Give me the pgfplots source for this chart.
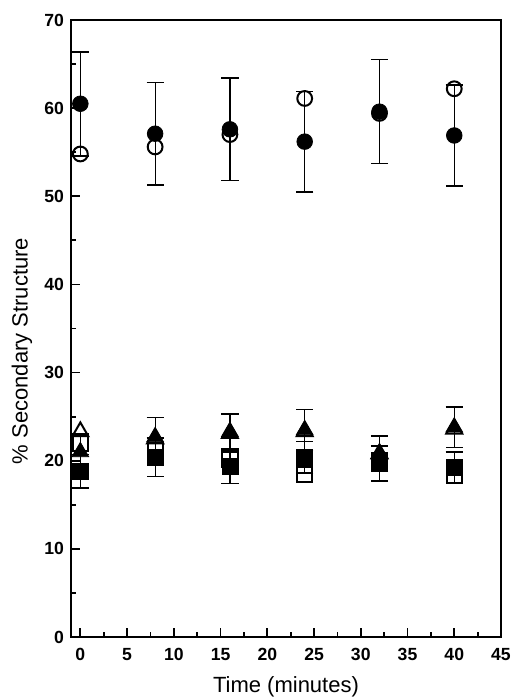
\documentclass[border=0pt]{standalone}
\usepackage{fontspec}
\setmainfont{Liberation Sans}
\usepackage{pgfplots}
\usepackage{pgfplotstable}
\pgfplotsset{compat=1.18}
\pgfplotstableread{
t y e
0 60.5 5.9
8 57.1 5.8
16 57.6 5.8
24 56.2 5.7
32 59.6 5.9
40 56.9 5.7
}\fcirc
\pgfplotstableread{
t y
0 54.8
8 55.6
16 57.0
24 61.1
32 59.4
40 62.2
}\ocirc
\pgfplotstableread{
t y e
0 21.0 2.0
8 22.7 2.2
16 23.3 2.0
24 23.5 2.3
32 20.8 2.0
40 23.8 2.3
}\ftri
\pgfplotstableread{
t y
0 23.3
8 22.5
16 23.1
24 23.3
32 20.8
40 23.6
}\otri
\pgfplotstableread{
t y e
0 18.8 1.9
8 20.4 2.2
16 19.3 1.9
24 20.4 1.8
32 19.7 2.0
40 19.2 1.8
}\fsq
\pgfplotstableread{
t y
0 22.0
8 21.2
16 20.1
24 18.4
32 20.0
40 18.3
}\osq
\begin{document}
\begin{tikzpicture}
\useasboundingbox (-35.5pt,-31.5pt) rectangle (219.5pt,318.5pt);
\begin{axis}[
  at={(0,0)}, anchor=south west,
  scale only axis, width=215pt, height=308.5pt,
  xmin=-1, xmax=45, ymin=0, ymax=70,
  xtick={0,5,...,45}, ytick={0,10,...,70},
  minor x tick num=1, minor y tick num=1,
  xtick pos=bottom, ytick pos=left, tick align=inside,
  major tick length=4.5pt, minor tick length=2.5pt,
  axis line style={line width=1pt},
  every tick/.style={line width=0.9pt, black},
  tick label style={font=\fontsize{8.8}{10}\selectfont\bfseries},
  /pgf/number format/assume math mode=true,
  xticklabel style={yshift=-2pt},
  xlabel={Time (minutes)}, ylabel={\% Secondary Structure},
  label style={font=\fontsize{11}{13}\selectfont},
  xlabel style={at={(axis description cs:0.5,-0.081)}, anchor=center},
  ylabel style={at={(axis description cs:-0.114,0.4635)}, anchor=center},
  error bars/error bar style={line width=0.6pt, black},
  error bars/error mark options={rotate=90, mark size=4.3pt, line width=0.8pt, black},
]
\addplot[only marks, mark=*, mark size=3.9pt, black,
  error bars/.cd, y dir=both, y explicit] table[x=t, y=y, y error=e] {\fcirc};
\addplot[only marks, mark=o, mark size=3.7pt, black, line width=1pt] table[x=t, y=y] {\ocirc};
\addplot[only marks, mark=triangle, mark size=4.6pt, black, line width=1pt] table[x=t, y=y] {\otri};
\addplot[only marks, mark=triangle*, mark size=4.8pt, black,
  error bars/.cd, y dir=both, y explicit] table[x=t, y=y, y error=e] {\ftri};
\addplot[only marks, mark=square*, mark size=4pt, black,
  error bars/.cd, y dir=both, y explicit] table[x=t, y=y, y error=e] {\fsq};
\addplot[only marks, mark=square, mark size=3.8pt, black, line width=1pt] table[x=t, y=y] {\osq};
\end{axis}
\end{tikzpicture}
\end{document}
